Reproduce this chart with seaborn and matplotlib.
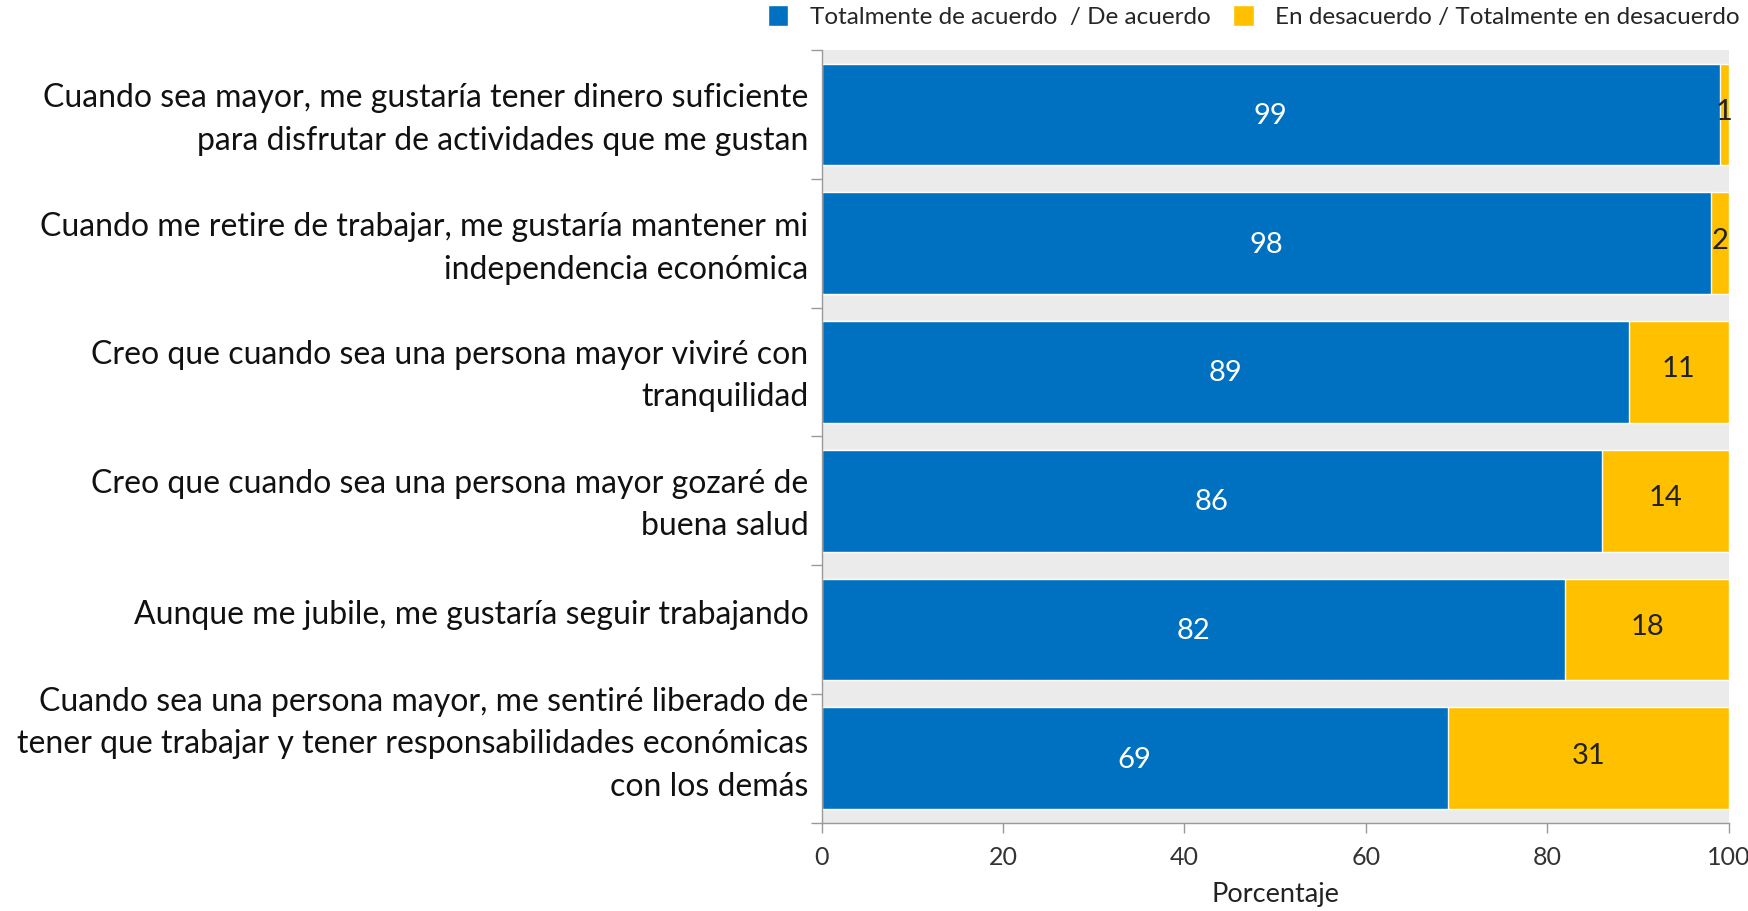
import numpy as np
import pandas as pd
import seaborn as sns
import matplotlib.pyplot as plt
from matplotlib.transforms import ScaledTranslation

# data
categories = [
    'Cuando sea mayor, me gustaría tener dinero suficiente\npara disfrutar de actividades que me gustan',
    'Cuando me retire de trabajar, me gustaría mantener mi\nindependencia económica',
    'Creo que cuando sea una persona mayor viviré con\ntranquilidad',
    'Creo que cuando sea una persona mayor gozaré de\nbuena salud',
    'Aunque me jubile, me gustaría seguir trabajando',
    'Cuando sea una persona mayor, me sentiré liberado de\ntener que trabajar y tener responsabilidades económicas\ncon los demás',
]
agree = [99, 98, 89, 86, 82, 69]
disagree = [1, 2, 11, 14, 18, 31]
series_names = ['Totalmente de acuerdo  / De acuerdo',
                'En desacuerdo / Totalmente en desacuerdo']
xticks = [0, 20, 40, 60, 80, 100]

# small vertical nudges (px, upward) of the category labels, as in the original
label_shift = [4, 4, 5, 5, 18, 23]

BLUE = '#0070C0'
YELLOW = '#FFC000'

df = pd.DataFrame({'cat': categories, 'agree': agree, 'disagree': disagree})
df['total'] = df['agree'] + df['disagree']

sns.set_style('white')
plt.rcParams['font.family'] = ['Lato', 'DejaVu Sans']

fig, ax = plt.subplots(figsize=(17.48, 9.11), dpi=100)
fig.subplots_adjust(left=0.470, right=0.989, top=0.945, bottom=0.097)
ax.set_facecolor('#ebebeb')

# stacked: total in yellow first, blue drawn over it
sns.barplot(data=df, x='total', y='cat', color=YELLOW, width=0.79,
            saturation=1, ax=ax, label=series_names[1])
sns.barplot(data=df, x='agree', y='cat', color=BLUE, width=0.79,
            saturation=1, ax=ax, label=series_names[0])
handles, labels = ax.get_legend_handles_labels()
if ax.get_legend() is not None:
    ax.get_legend().remove()

for i, row in df.iterrows():
    ax.text(row['agree'] / 2, i + 0.01, str(row['agree']), color='white',
            ha='center', va='center', fontsize=21)
    ax.text(row['agree'] + row['disagree'] / 2, i - 0.02, str(row['disagree']),
            color='#222222', ha='center', va='center', fontsize=21)

ax.set_xlim(0, 100)
ax.set_ylim(len(categories) - 0.5, -0.5)
ax.set_xticks(xticks)
ax.set_xticklabels([str(t) for t in xticks], fontsize=18, color='#333333')
ax.set_xlabel('Porcentaje', fontsize=19.5, color='#222222', labelpad=9)
ax.set_ylabel('')

# category labels at bar centres, tick marks between bars
ax.set_yticks(range(len(categories)))
ax.set_yticklabels(categories, fontsize=23, color='#111111',
                   linespacing=1.52)
ax.tick_params(axis='y', which='major', left=False, pad=6)
for lab, dy in zip(ax.get_yticklabels(), label_shift):
    lab.set_transform(lab.get_transform() +
                      ScaledTranslation(0, dy / 100, fig.dpi_scale_trans))
ax.set_yticks(np.arange(-0.5, len(categories), 1), minor=True)
ax.tick_params(axis='y', which='minor', left=True, length=8,
               color='#999999', width=1)
ax.tick_params(axis='x', bottom=True, length=7, color='#999999', width=1,
               pad=10)

for side in ['top', 'right']:
    ax.spines[side].set_visible(False)
for side in ['left', 'bottom']:
    ax.spines[side].set_color('#999999')
    ax.spines[side].set_linewidth(1)

order = [labels.index(n) for n in series_names]
leg = fig.legend([handles[k] for k in order], [labels[k] for k in order],
                 loc='upper right', bbox_to_anchor=(1.008, 1.018), ncol=2,
                 frameon=False, fontsize=17.5, handlelength=0.85,
                 handleheight=0.95, handletextpad=0.9, columnspacing=0.9)

fig.savefig('out.png', dpi=100, facecolor='white')
